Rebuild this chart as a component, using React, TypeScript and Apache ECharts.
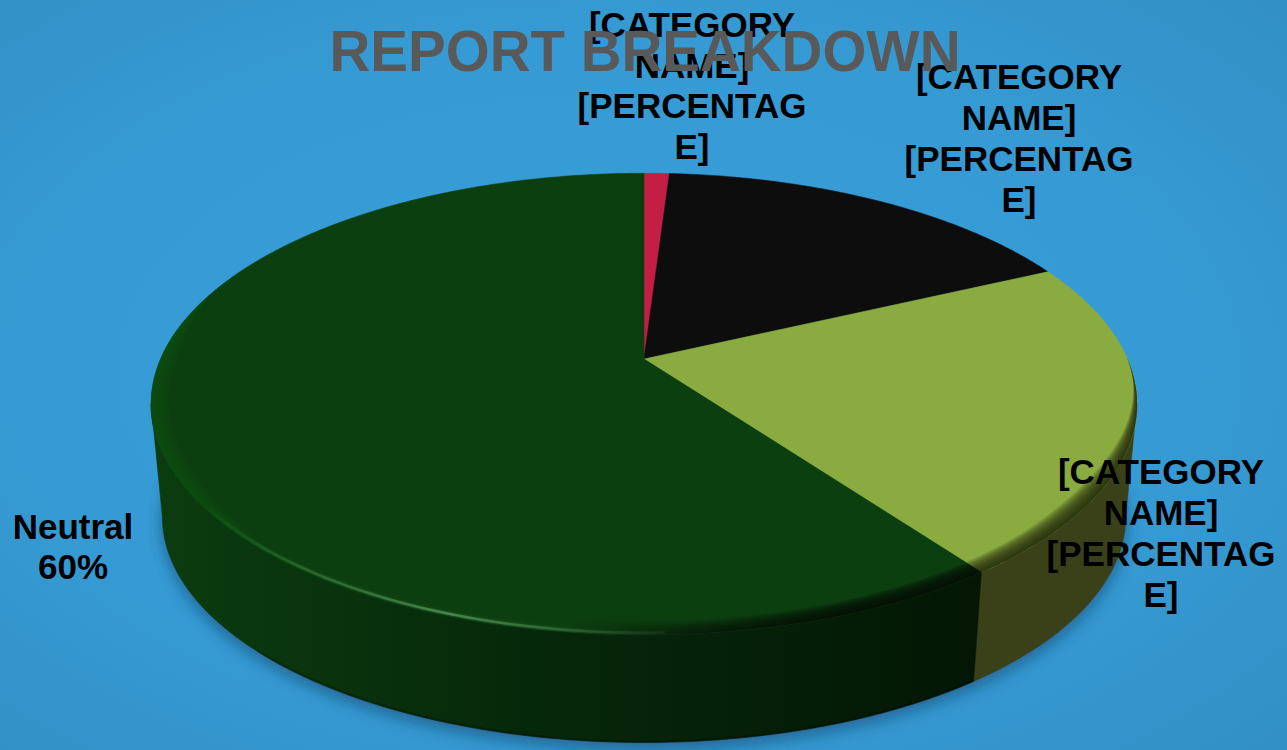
import React, { useEffect, useRef } from "react";
import * as echarts from "echarts";

// Slices run clockwise from twelve o'clock.
const categoryNames = ["[CATEGORY NAME]", "[CATEGORY NAME]", "[CATEGORY NAME]", "Neutral"];
const sliceValues = [1, 17, 22, 60];
const topColors = ["#c41e45", "#0d0d0d", "#8aab40", "#0c3f10"];
const sideColors = ["#6e1026", "#050505", "#3a4018", "#052207"];
const placeholderLabel = ["[CATEGORY", "NAME]", "[PERCENTAG", "E]"];
const chartTitle = "REPORT BREAKDOWN";

// Tilted-disc projection: a unit circle seen in perspective.
const APEX_X = 644;
const APEX_Y = 359;
const FOOT_Y = 473;
const FOOT_SCALE = 0.977;
const RX = 483.5;
const RY = 222;
const TILT = 0.195;
const SILHOUETTE_START = 101.2;
const SILHOUETTE_END = 258.8;

const rad = (d: number) => (d * Math.PI) / 180;

function project(deg: number, r: number, foot = false): number[] {
  const X = r * Math.sin(rad(deg));
  const Y = -r * Math.cos(rad(deg));
  const w = 1 - TILT * Y;
  const s = foot ? FOOT_SCALE : 1;
  return [APEX_X + (s * RX * X) / w, (foot ? FOOT_Y : APEX_Y) + (s * RY * Y) / w];
}

function arc(from: number, to: number, r: number | ((d: number) => number), foot = false): number[][] {
  const pts: number[][] = [];
  const n = Math.max(2, Math.ceil((to - from) / 0.5));
  for (let i = 0; i <= n; i++) {
    const d = from + ((to - from) * i) / n;
    pts.push(project(d, typeof r === "function" ? r(d) : r, foot));
  }
  return pts;
}

function sliceRange(i: number): number[] {
  const total = sliceValues.reduce((a, b) => a + b, 0);
  const before = sliceValues.slice(0, i).reduce((a, b) => a + b, 0);
  return [(before / total) * 360, ((before + sliceValues[i]) / total) * 360];
}

const smooth = (a: number, b: number, x: number) => {
  const t = Math.min(1, Math.max(0, (x - a) / (b - a)));
  return t * t * (3 - 2 * t);
};

const hgrad = (x0: number, x1: number, stops: [number, string][]) =>
  new echarts.graphic.LinearGradient(x0, 0, x1, 0, stops.map(([offset, color]) => ({ offset, color })), true);

function sideFill(i: number) {
  if (i === 3) {
    return hgrad(160, 975, [
      [0, "#0b3c0f"],
      [0.45, "#06280a"],
      [1, "#031704"],
    ]);
  }
  return sideColors[i];
}

function bevelFill(i: number) {
  if (i === 3) {
    return hgrad(560, 860, [
      [0, "rgba(2,14,3,0)"],
      [1, "rgba(2,14,3,0.2)"],
    ]);
  }
  return "rgba(40,45,15,0.16)";
}

// Wall of the disc, only where a slice faces the viewer.
function renderSide(params: any) {
  const i = params.dataIndex;
  const [a, b] = sliceRange(i);
  const from = Math.max(a, SILHOUETTE_START);
  const to = Math.min(b, SILHOUETTE_END);
  if (to <= from) return { type: "group", children: [] };
  const upper = arc(from, to, 1);
  const lower = arc(from, to, 1, true);
  const children: any[] = [
    {
      type: "polygon",
      shape: { points: [...upper, ...lower.reverse()] },
      style: { fill: sideFill(i), stroke: sideFill(i), lineWidth: 0.5 },
    },
  ];
  if (i === 3) {
    children.push({
      type: "polyline",
      shape: { points: arc(Math.max(from, 135), Math.min(to, 225), 0.998, true) },
      style: { fill: "none", stroke: "rgba(0,0,0,0.22)", lineWidth: 2.5 },
    });
  }
  return { type: "group", children };
}

// Top face with its softened outer edge.
function renderTop(params: any) {
  const i = params.dataIndex;
  const [a, b] = sliceRange(i);
  const children: any[] = [
    {
      type: "polygon",
      shape: { points: [[APEX_X, APEX_Y], ...arc(a, b, 1)] },
      style: { fill: topColors[i], stroke: topColors[i], lineWidth: 0.5 },
    },
  ];
  const from = Math.max(a, 90);
  const to = Math.min(b, 240);
  if (to > from && i >= 2) {
    const bands = 12;
    for (let k = bands; k >= 1; k--) {
      const depth = (d: number) =>
        1 - (0.04 * k * smooth(88, 130, d) * (1 - smooth(190, 238, d))) / bands;
      children.push({
        type: "polygon",
        shape: { points: [...arc(from, to, depth), ...arc(from, to, 1).reverse()] },
        style: { fill: bevelFill(i) },
      });
    }
  }
  if (i === 3) {
    // Lighter rim on the far left of the large slice.
    const rimBands = 8;
    for (let k = rimBands; k >= 1; k--) {
      const depth = (d: number) =>
        1 - (0.035 * k * smooth(205, 245, d) * (1 - smooth(268, 295, d))) / rimBands;
      children.push({
        type: "polygon",
        shape: { points: [...arc(205, 295, depth), ...arc(205, 295, 1).reverse()] },
        style: { fill: "rgba(28,106,34,0.045)" },
      });
    }
    children.push({
      type: "polyline",
      shape: { points: arc(178, 246, 0.994) },
      style: {
        fill: "none",
        lineWidth: 2.5,
        shadowBlur: 3,
        shadowColor: "rgba(70,135,75,0.5)",
        stroke: hgrad(200, 700, [
          [0, "rgba(45,110,50,0)"],
          [0.2, "rgba(60,125,65,0.5)"],
          [0.5, "rgba(75,140,80,0.9)"],
          [0.72, "rgba(70,130,75,0.5)"],
          [1, "rgba(60,120,65,0)"],
        ]),
      },
    });
  }
  return { type: "group", children };
}

// Soft cast shadow under the base of the disc.
function renderShadow(params: any) {
  if (params.dataIndex !== 0) return { type: "group", children: [] };
  return {
    type: "polygon",
    shape: { points: arc(0, 360, 1, true) },
    style: {
      fill: "#1d5f8a",
      shadowBlur: 16,
      shadowOffsetY: 6,
      shadowColor: "rgba(15,60,100,0.6)",
    },
  };
}

const seriesData = sliceValues.map((v, i) => ({ name: categoryNames[i], value: [i, v] }));

function labelText(x: number, y: number, lines: string[]) {
  return {
    type: "text",
    x,
    y,
    z: 5,
    style: {
      text: lines.join("\n"),
      fill: "#000000",
      font: 'bold 35px "Liberation Sans", Arial, sans-serif',
      lineHeight: 40.7,
      align: "center",
      verticalAlign: "middle",
    },
  };
}

export default function App() {
  const ref = useRef<HTMLDivElement>(null);

  useEffect(() => {
    document.body.style.margin = "0";
    const chart = echarts.init(ref.current!, undefined, { renderer: "svg" });
    const neutral = sliceValues.length - 1;
    chart.setOption({
      animation: false,
      backgroundColor: new echarts.graphic.RadialGradient(
        0.47,
        0.5,
        0.72,
        [
          { offset: 0, color: "#389ed9" },
          { offset: 0.6, color: "#369bd5" },
          { offset: 1, color: "#3290c5" },
        ],
        false
      ),
      title: {
        text: chartTitle,
        left: 640,
        top: 46,
        z: 10,
        textAlign: "center",
        textVerticalAlign: "middle",
        textStyle: {
          color: "#595959",
          fontSize: 56.5,
          fontWeight: "bold",
          fontFamily: '"Liberation Sans", Arial, sans-serif',
        },
      },
      graphic: {
        z: 5,
        elements: [
          labelText(692, 85.5, placeholderLabel),
          labelText(1019, 138, placeholderLabel),
          labelText(1161, 533, placeholderLabel),
          labelText(73, 546.5, [categoryNames[neutral], `${sliceValues[neutral]}%`]),
        ],
      },
      series: [
        { type: "custom", coordinateSystem: "none", z: 1, silent: true, renderItem: renderShadow, data: seriesData },
        { type: "custom", coordinateSystem: "none", z: 2, silent: true, renderItem: renderSide, data: seriesData },
        { type: "custom", coordinateSystem: "none", z: 3, silent: true, renderItem: renderTop, data: seriesData },
      ],
    });
    return () => chart.dispose();
  }, []);

  return <div ref={ref} style={{ width: 1287, height: 750 }} />;
}
